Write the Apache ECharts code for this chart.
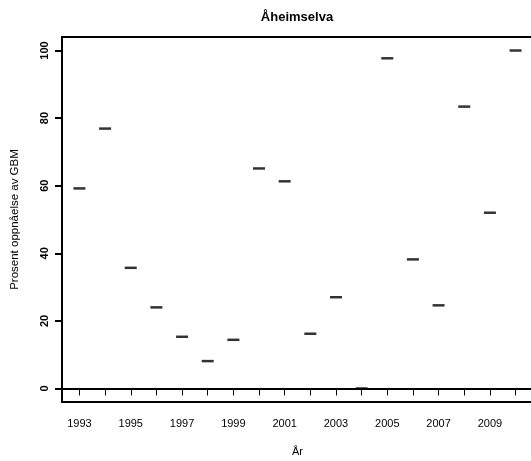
<!DOCTYPE html>
<html>
<head>
<meta charset="utf-8">
<script src="https://cdn.jsdelivr.net/npm/echarts@6/dist/echarts.min.js"></script>
<style>
html,body{margin:0;padding:0;background:#fff;}
#chart{width:531px;height:461px;}
</style>
</head>
<body>
<div id="chart"></div>
<script>
var years = [1993,1994,1995,1996,1997,1998,1999,2000,2001,2002,2003,2004,2005,2006,2007,2008,2009,2010];
var values = [59.2,76.9,35.7,24.0,15.3,8.1,14.4,65.1,61.3,16.2,27.0,0.0,97.7,38.2,24.6,83.4,52.0,100.0];
var xTickYears = [1993,1994,1995,1996,1997,1998,1999,2000,2001,2002,2003,2004,2005,2006,2007,2008,2009,2010];
var xLabelYears = [1993,1995,1997,1999,2001,2003,2005,2007,2009];
var yTicks = [0,20,40,60,80,100];

var points = years.map(function(y,i){return [y, values[i]];});
var font = 'Liberation Sans, Arial, Helvetica, sans-serif';

var chart = echarts.init(document.getElementById('chart'), null, {renderer:'canvas'});
chart.setOption({
  animation:false,
  backgroundColor:'#fff',
  title:{
    text:'Åheimselva',
    left:292, top:6, textAlign:'center',
    textStyle:{fontFamily:font,fontSize:13,fontWeight:'bold',color:'#000'}
  },
  grid:{left:62, top:37, right:-2, bottom:59, show:true, borderColor:'#000', borderWidth:2, backgroundColor:'transparent', outerBoundsMode:'none', containLabel:false},
  xAxis:{
    type:'value', min:1992.32, max:2010.68,
    name:'År', nameLocation:'middle', nameGap:44,
    nameTextStyle:{fontFamily:font,fontSize:11,color:'#000'},
    axisLine:{show:true,lineStyle:{color:'#000',width:2}},
    axisTick:{show:true,length:7,lineStyle:{color:'#000',width:1},customValues:xTickYears},
    axisLabel:{fontFamily:font,fontSize:11,color:'#000',margin:16,customValues:xLabelYears,formatter:function(v){return String(v);}},
    splitLine:{show:false}
  },
  yAxis:{
    type:'value', min:-4, max:104,
    name:'Prosent oppnåelse av GBM', nameLocation:'middle', nameGap:41, nameRotate:90,
    nameTextStyle:{fontFamily:font,fontSize:11.5,color:'#000'},
    axisLine:{show:true,lineStyle:{color:'#000',width:2}},
    axisTick:{show:true,length:7,lineStyle:{color:'#000',width:2},customValues:yTicks},
    axisLabel:{fontFamily:font,fontSize:11,fontWeight:'bold',color:'#000',rotate:90,margin:12,customValues:yTicks},
    splitLine:{show:false}
  },
  series:[{
    type:'scatter',
    data:points,
    symbol:'rect',
    symbolSize:[12,2.5],
    itemStyle:{color:'#000'},
    clip:false
  }]
});
</script>
</body>
</html>
